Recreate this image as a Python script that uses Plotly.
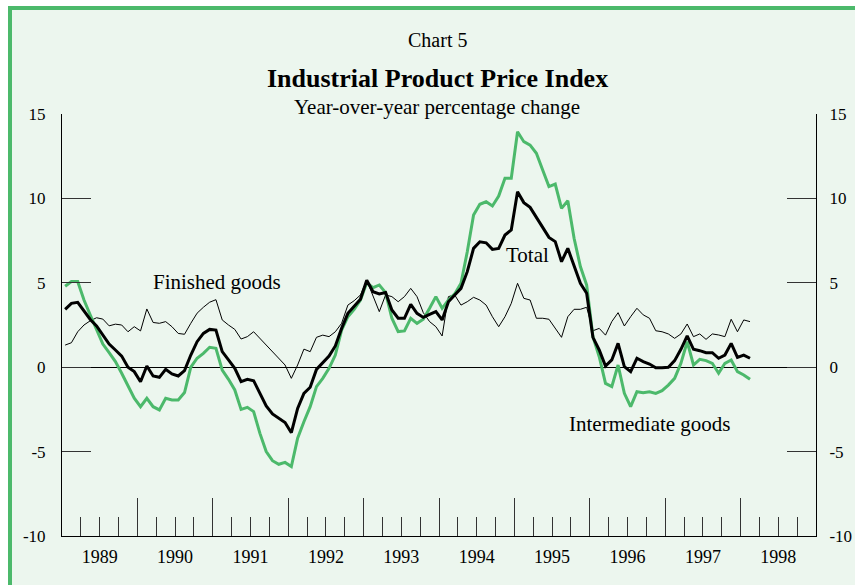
import plotly.graph_objects as go
import pandas as pd

# Monthly data, Jan 1989 - Feb 1998 (year-over-year % change)
start_year = 1989
n_months = 110

intermediate = [4.8, 5.07, 5.07, 3.98, 3.09, 2.2, 1.37, 0.86, 0.33, -0.36, -1.15, -1.84,
                -2.34, -1.84, -2.34, -2.53, -1.84, -1.94, -1.94, -1.5, 0.0, 0.53, 0.82, 1.18,
                1.12, -0.17, -0.72, -1.35, -2.5, -2.38, -2.63, -3.92, -5.0, -5.54, -5.75, -5.64,
                -5.89, -4.2, -3.23, -2.34, -1.15, -0.66, -0.07, 0.72, 2.2, 2.99, 3.43, 3.98,
                5.0, 4.71, 4.87, 4.42, 2.9, 2.11, 2.15, 2.9, 2.6, 2.84, 3.49, 4.18,
                3.49, 3.98, 4.34, 4.97, 6.84, 9.02, 9.65, 9.8, 9.55, 10.14, 11.19, 11.19,
                13.95, 13.36, 13.16, 12.67, 11.68, 10.7, 10.85, 9.41, 9.86, 7.64, 5.96, 4.87,
                1.81, 0.62, -0.96, -1.15, 0.13, -1.55, -2.34, -1.45, -1.51, -1.45, -1.55, -1.39,
                -1.06, -0.66, 0.23, 1.51, 0.13, 0.47, 0.39, 0.23, -0.36, 0.23, 0.43, -0.26,
                -0.46, -0.72]

total = [3.43, 3.78, 3.84, 3.35, 2.83, 2.44, 1.9, 1.37, 1.02, 0.66, 0.0, -0.26,
         -0.86, 0.07, -0.52, -0.6, -0.13, -0.4, -0.52, -0.2, 0.72, 1.51, 2.0, 2.24,
         2.2, 0.92, 0.43, -0.07, -0.86, -0.72, -0.8, -1.55, -2.3, -2.77, -3.03, -3.28,
         -3.88, -2.44, -1.55, -1.19, -0.13, 0.29, 0.66, 1.26, 2.3, 3.19, 3.62, 4.02,
         5.15, 4.47, 4.34, 4.42, 3.39, 2.9, 2.9, 3.72, 3.19, 2.95, 3.13, 3.29,
         2.8, 3.88, 4.28, 4.67, 5.66, 7.04, 7.43, 7.37, 6.98, 7.04, 7.83, 8.13,
         10.4, 9.75, 9.47, 8.88, 8.23, 7.69, 7.44, 6.25, 7.04, 6.05, 4.97, 4.38,
         1.77, 1.02, 0.07, 0.43, 1.41, 0.03, -0.26, 0.53, 0.33, 0.19, -0.03, -0.03,
         0.0, 0.39, 1.06, 1.85, 1.06, 0.98, 0.86, 0.86, 0.53, 0.72, 1.41, 0.58,
         0.72, 0.53]

finished = [1.31, 1.45, 2.1, 2.5, 2.75, 2.93, 2.85, 2.45, 2.55, 2.5, 2.1, 2.4,
            2.15, 3.45, 2.65, 2.6, 2.7, 2.4, 2.0, 1.95, 2.6, 3.2, 3.55, 3.85,
            4.0, 2.8, 2.5, 2.24, 1.67, 1.81, 2.1, 1.71, 1.26, 0.92, 0.53, 0.13,
            -0.66, 0.13, 1.07, 0.92, 1.77, 1.9, 1.81, 2.1, 2.6, 3.68, 3.94, 4.28,
            5.15, 4.22, 3.29, 4.28, 4.18, 3.88, 4.18, 4.67, 4.18, 3.23, 2.7, 2.4,
            1.85, 4.18, 4.28, 3.68, 3.88, 4.14, 3.98, 3.68, 2.99, 2.4, 2.99, 3.78,
            4.97, 4.08, 3.98, 2.9, 2.9, 2.84, 2.3, 1.77, 2.99, 3.43, 3.43, 3.55,
            2.16, 2.3, 1.9, 2.7, 3.23, 2.44, 2.99, 3.49, 3.1, 2.9, 2.16, 2.1,
            1.97, 1.71, 1.97, 2.56, 1.81, 1.97, 1.65, 1.97, 1.91, 1.81, 2.84, 2.1,
            2.8, 2.7]

year_labels = ["1989", "1990", "1991", "1992", "1993", "1994", "1995", "1996", "1997", "1998"]
y_tick_vals = [-10, -5, 0, 5, 10, 15]
y_tick_text = ["-10", "-5", "0", "5", "10", "15"]

dates = pd.date_range(f"{start_year}-01-01", periods=n_months, freq="MS")
xvals = [d.year + (d.month - 0.5) / 12 for d in dates]

years = [int(y) for y in year_labels]
x_lo, x_hi = years[0], years[-1] + 1

GREEN = "#4cb96b"
BG = "#ecf6ee"
FONT = "Liberation Serif"

fig = go.Figure()
fig.add_trace(go.Scatter(x=xvals, y=finished, mode="lines", line=dict(color="black", width=1),
                         hoverinfo="skip", showlegend=False))
fig.add_trace(go.Scatter(x=xvals, y=intermediate, mode="lines", line=dict(color=GREEN, width=3),
                         hoverinfo="skip", showlegend=False))
fig.add_trace(go.Scatter(x=xvals, y=total, mode="lines", line=dict(color="black", width=3),
                         hoverinfo="skip", showlegend=False))
# invisible trace to instantiate the secondary axes (right y labels, centered year labels)
fig.add_trace(go.Scatter(x=xvals, y=total, mode="lines", line=dict(color="rgba(0,0,0,0)", width=0),
                         xaxis="x2", yaxis="y2", hoverinfo="skip", showlegend=False))

W, H = 855, 585
L, T = 62, 114
R = W - 816
B = H - 536
pw, ph = W - L - R, H - T - B


def px_x(p):
    return (p - L) / pw


def px_y(p):
    return (H - B - p) / ph


quarters = [y + q / 4 for y in range(x_lo, x_hi) for q in (1, 2, 3)]


def ann(text, x, y, size):
    return dict(text=text, xref="paper", yref="paper", x=px_x(x), y=px_y(y),
                xanchor="center", yanchor="middle", showarrow=False,
                font=dict(family=FONT, size=size, color="black"))


fig.update_layout(
    width=W, height=H,
    margin=dict(l=L, r=R, t=T, b=B, pad=0, autoexpand=False),
    paper_bgcolor="white",
    plot_bgcolor="rgba(0,0,0,0)",
    font=dict(family=FONT, size=17, color="black"),
    xaxis=dict(range=[x_lo, x_hi], tickmode="array", tickvals=years[1:],
               ticks="inside", ticklen=38, tickwidth=1, tickcolor="#333",
               showticklabels=False, showline=True, linecolor="black", linewidth=1,
               showgrid=False, zeroline=False, automargin=False,
               minor=dict(tickmode="array", tickvals=quarters, ticks="inside", ticklen=19,
                          tickwidth=1, tickcolor="#333", showgrid=False)),
    xaxis2=dict(range=[x_lo, x_hi], overlaying="x", anchor="y", side="bottom",
                tickmode="array", tickvals=[y + 0.5 for y in years], ticktext=year_labels,
                ticks="", showline=False, showgrid=False, zeroline=False, automargin=False,
                ticklabelstandoff=8, tickfont=dict(family=FONT, size=18)),
    yaxis=dict(range=[-10, 15], tickmode="array", tickvals=y_tick_vals, ticktext=y_tick_text,
               ticks="inside", ticklen=29, tickwidth=1, tickcolor="#333",
               showline=True, linecolor="black", linewidth=1, showgrid=False,
               zeroline=True, zerolinecolor="black", zerolinewidth=1, automargin=False,
               ticklabelstandoff=12, tickfont=dict(family=FONT, size=17)),
    yaxis2=dict(range=[-10, 15], overlaying="y", side="right", anchor="x2",
                tickmode="array", tickvals=y_tick_vals, ticktext=y_tick_text,
                ticks="inside", ticklen=29, tickwidth=1, tickcolor="#333",
                showline=True, linecolor="black", linewidth=1, showgrid=False, zeroline=False,
                automargin=False, ticklabelstandoff=9, tickfont=dict(family=FONT, size=17)),
    shapes=[dict(type="rect", xref="paper", yref="paper",
                 x0=px_x(10), x1=px_x(880), y0=px_y(610), y1=px_y(8),
                 line=dict(color=GREEN, width=4), fillcolor=BG, layer="below")],
    annotations=[
        ann("Chart 5", 437, 40, 20),
        ann("<b>Industrial Product Price Index</b>", 437, 78, 26),
        ann("Year-over-year percentage change", 437, 107, 21),
        ann("Finished goods", 217, 282, 21),
        ann("Total", 527, 255, 21),
        ann("Intermediate goods", 650, 424, 21),
    ],
)

fig.write_html(
    "out.html",
    config={"displayModeBar": False},
    post_script="document.body.style.margin='0';document.body.style.overflow='hidden';",
)
